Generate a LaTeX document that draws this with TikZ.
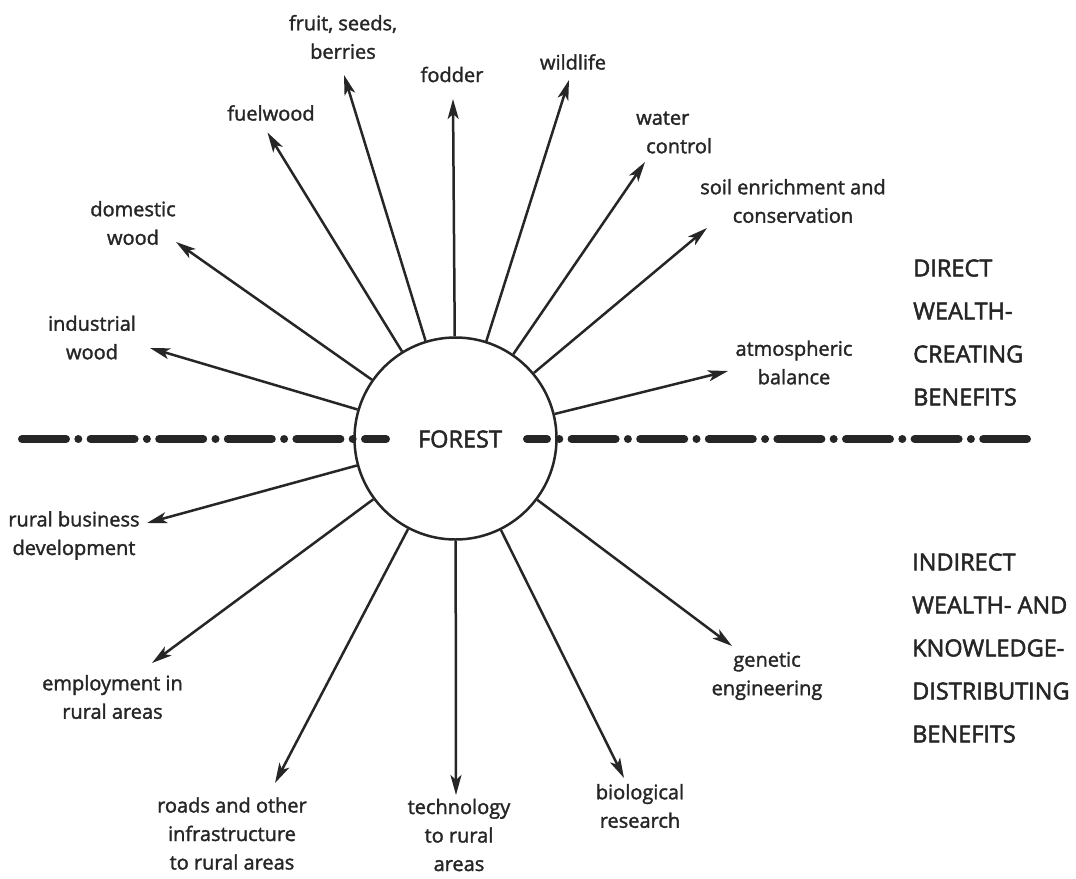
\documentclass[tikz,border=0pt]{standalone}
\usepackage{fontspec}
\setmainfont{Open Sans}
\newfontfamily\lblfont[FakeBold=1.6]{Open Sans}
\newfontfamily\capfont[FakeBold=2.2]{Open Sans}
\usetikzlibrary{arrows.meta}
\definecolor{ink}{HTML}{262626}
\tikzset{
  lbl/.style={align=center, text=ink, inner sep=0pt, font=\lblfont\fontsize{20}{28.5}\selectfont},
  caps/.style={align=left, anchor=west, text=ink, inner sep=0pt, font=\capfont\fontsize{23.5}{43}\selectfont},
  arr/.style={draw=ink, line width=2.5pt, -{Stealth[length=20pt, width=11pt, inset=5pt]}},
  divider/.style={draw=ink, line width=8pt, line cap=round, dash pattern=on 44pt off 12.3pt on 0pt off 12.3pt},
}
\begin{document}
\begin{tikzpicture}[x=1pt, y=-1pt]
\useasboundingbox[fill=white] (0,0) rectangle (1076,878);
% divider line
\coordinate (dl1) at (22,439);
\coordinate (dl2) at (386,439);
\coordinate (dr1) at (527,439);
\coordinate (dr2) at (1027,439);
\draw[divider] (dl1) -- (dl2);
\draw[divider, dash phase=24pt] (dr1) -- (dr2);
% central circle
\node[circle, draw=ink, line width=2.5pt, minimum size=202pt, inner sep=0pt] (forest) at (455.5,438.5) {};
\node[fill=white, inner sep=3pt, text=ink, font=\capfont\fontsize{23.5}{26}\selectfont] (forestlbl) at (460,439) {FOREST};
% arrow tips
\coordinate (t1) at (150,348);
\coordinate (t2) at (176,242);
\coordinate (t3) at (267.5,132.5);
\coordinate (t4) at (344,75);
\coordinate (t5) at (453,99);
\coordinate (t6) at (569,80);
\coordinate (t7) at (645,162);
\coordinate (t8) at (707,228);
\coordinate (t9) at (728,371);
\coordinate (b1) at (147,523);
\coordinate (b2) at (152,663);
\coordinate (b3) at (275,783);
\coordinate (b4) at (456,795);
\coordinate (b5) at (624,778);
\coordinate (b6) at (732,646);
\foreach \t in {t1,t2,t3,t4,t5,t6,t7,t8,t9,b1,b2,b3,b4,b5,b6}
  \draw[arr] (forest) -- (\t);
% labels
\node[lbl] (l1) at (92,337.5) {industrial\\wood};
\node[lbl] (l2) at (133,223) {domestic\\wood};
\node[lbl] (l3) at (271,113) {fuelwood};
\node[lbl] (l4) at (343,37) {fruit, seeds,\\berries};
\node[lbl] (l5) at (452,74.5) {fodder};
\node[lbl] (l6) at (573,62) {wildlife};
\node[lbl, align=left, anchor=west] (l7) at (636,132.5) {water\\\hspace*{10pt}control};
\node[lbl] (l8) at (793,201) {soil enrichment and\\conservation};
\node[lbl] (l9) at (794,362.5) {atmospheric\\balance};
\node[lbl] (m1) at (74,535.5) {rural business\\development};
\node[lbl] (m2) at (112.5,697) {employment in\\rural areas};
\node[lbl] (m3) at (232,833.5) {roads and other\\infrastructure\\to rural areas};
\node[lbl] (m4) at (459,835) {technology\\to rural\\areas};
\node[lbl] (m5) at (640,806) {biological\\research};
\node[lbl] (m6) at (767,676) {genetic\\engineering};
\node[caps] (direct) at (913,332.5) {DIRECT\\WEALTH-\\CREATING\\BENEFITS};
\node[caps] (indirect) at (912,648) {INDIRECT\\WEALTH- AND\\KNOWLEDGE-\\DISTRIBUTING\\BENEFITS};
\end{tikzpicture}
\end{document}
